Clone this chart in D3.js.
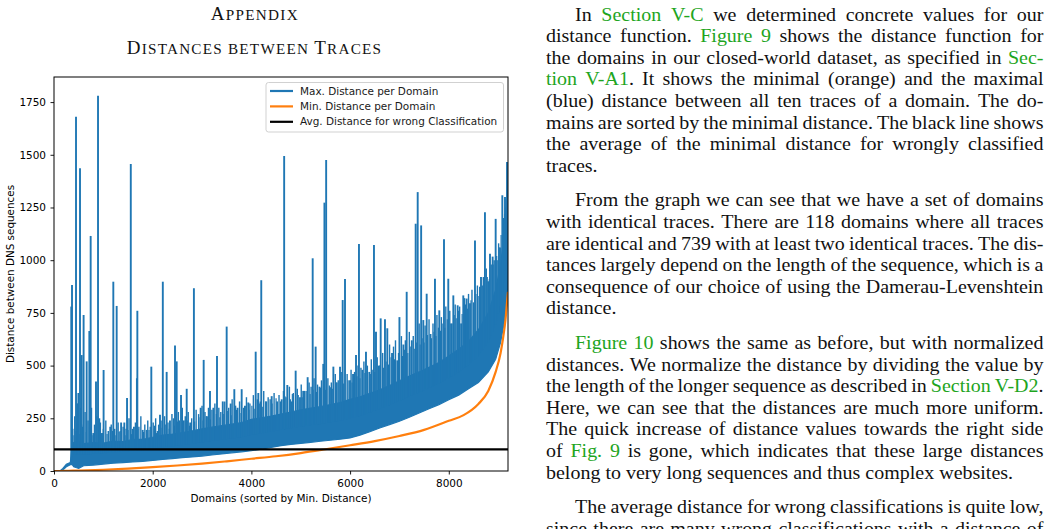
<!DOCTYPE html>
<html><head><meta charset="utf-8">
<script src="https://cdn.jsdelivr.net/npm/d3@7/dist/d3.min.js"></script>
<style>html,body{margin:0;padding:0;background:#fff;overflow:hidden}</style>
</head><body>
<svg id="c" width="1058" height="529"></svg>
<script>
// ---------------- data ----------------
const xTicks = [0, 2000, 4000, 6000, 8000];
const yTicks = [0, 250, 500, 750, 1000, 1250, 1500, 1750];
const xLabel = "Domains (sorted by Min. Distance)";
const yLabel = "Distance between DNS sequences";
const legendLabels = ["Max. Distance per Domain", "Min. Distance per Domain", "Avg. Distance for wrong Classification"];

// dense body of the max-distance series (lower / upper edge of the solid blue mass)
const bandX    = [120, 180, 250, 330, 370, 400, 500, 600, 800, 1000, 1200, 1400, 1600, 1800, 2000, 2200, 2400, 2600, 2800, 3000, 3200, 3400, 3600, 3800, 4000, 4200, 4400, 4600, 4800, 5000, 5200, 5400, 5600, 5800, 6000, 6200, 6400, 6600, 6800, 7000, 7200, 7400, 7600, 7800, 8000, 8200, 8400, 8600, 8800, 8950, 9050, 9120, 9170, 9200];
const bandLow  = [0, 5, 20, 30, 30, 20, 12, 25, 28, 33, 37, 40, 43, 46, 50, 55, 59, 63, 67, 71, 76, 81, 86, 91, 96, 104, 112, 120, 126, 131, 136, 141, 146, 151, 157, 170, 186, 204, 220, 236, 255, 275, 295, 315, 338, 360, 390, 420, 470, 530, 610, 700, 780, 820];
const bandHigh = [0, 12, 32, 40, 120, 135, 140, 130, 135, 132, 142, 140, 150, 150, 160, 170, 175, 182, 190, 200, 208, 215, 222, 230, 245, 252, 260, 270, 280, 290, 298, 305, 315, 325, 340, 352, 368, 385, 405, 428, 450, 470, 492, 515, 545, 578, 615, 670, 750, 860, 980, 1120, 1260, 1380];

// individual tall spikes of the max-distance series
const spikeX = [350, 365, 446, 473, 494, 527, 561, 600, 662, 716, 743, 797, 851, 892, 918, 966, 1005, 1140, 1202, 1270, 1360, 1425, 1480, 1556, 1620, 1680, 1689, 1797, 1878, 1972, 2040, 2081, 2148, 2205, 2283, 2350, 2452, 2486, 2574, 2630, 2689, 2760, 2835, 2972, 3033, 3100, 3161, 3230, 3303, 3420, 3499, 3580, 3654, 3720, 3803, 3870, 3937, 4087, 4140, 4200, 4300, 4411, 4520, 4614, 4664, 4728, 4816, 4897, 4985, 5050, 5140, 5242, 5302, 5380, 5457, 5480, 5515, 5593, 5661, 5730, 5796, 5850, 5897, 5998, 6060, 6120, 6180, 6250, 6322, 6390, 6484, 6525, 6580, 6620, 6707, 6754, 6850, 6957, 7000, 7080, 7147, 7250, 7329, 7370, 7440, 7484, 7552, 7630, 7720, 7808, 7903, 7990, 8060, 8092, 8180, 8250, 8294, 8362, 8430, 8531, 8632, 8653, 8733, 8800, 8835, 8889, 8950, 9000, 9038, 9085, 9139, 9180];
const spikeY = [780, 882, 1681, 321, 370, 1436, 550, 740, 520, 664, 1115, 180, 424, 1780, 250, 180, 479, 210, 898, 783, 230, 230, 346, 1456, 210, 440, 760, 195, 195, 495, 200, 180, 267, 898, 470, 240, 595, 520, 360, 240, 390, 230, 867, 300, 527, 260, 380, 300, 545, 330, 685, 320, 388, 300, 388, 310, 325, 566, 370, 905, 330, 355, 330, 340, 1494, 408, 330, 476, 350, 380, 445, 1009, 590, 400, 508, 1273, 1475, 397, 495, 420, 495, 811, 911, 430, 460, 550, 1077, 480, 566, 470, 1072, 661, 500, 724, 720, 677, 560, 525, 730, 600, 850, 620, 1173, 1323, 1165, 716, 841, 650, 912, 762, 1099, 912, 700, 833, 786, 700, 833, 818, 796, 1093, 874, 920, 1228, 900, 1030, 1017, 1196, 1000, 1060, 1308, 1300, 1466];

// medium peaks rising above the solid mass
const hairX = [380, 420, 470, 540, 580, 630, 690, 760, 820, 870, 940, 1000, 1050, 1100, 1160, 1230, 1300, 1340, 1400, 1460, 1520, 1590, 1650, 1720, 1760, 1840, 1900, 1950, 2010, 2060, 2120, 2170, 2240, 2310, 2390, 2420, 2520, 2540, 2600, 2660, 2720, 2790, 2880, 2930, 3000, 3060, 3130, 3200, 3260, 3340, 3380, 3460, 3540, 3610, 3680, 3760, 3840, 3900, 3970, 4040, 4120, 4180, 4250, 4340, 4380, 4460, 4560, 4650, 4700, 4770, 4850, 4930, 5010, 5080, 5170, 5210, 5270, 5340, 5420, 5550, 5620, 5700, 5760, 5820, 5940, 6020, 6090, 6160, 6220, 6280, 6350, 6430, 6550, 6660, 6800, 6880, 6920, 7040, 7120, 7200, 7280, 7400, 7520, 7600, 7680, 7760, 7850, 7940, 8020, 8130, 8220, 8320, 8400, 8470, 8580, 8700, 8760, 8860, 8920, 9010, 9110, 9150];
const hairY = [200, 260, 230, 300, 210, 280, 240, 300, 220, 260, 230, 200, 240, 190, 220, 200, 230, 190, 210, 200, 250, 200, 230, 210, 260, 220, 240, 210, 230, 250, 220, 240, 260, 230, 270, 250, 280, 240, 300, 260, 280, 250, 290, 270, 310, 280, 300, 290, 320, 300, 280, 330, 300, 340, 310, 330, 300, 350, 320, 360, 340, 330, 380, 350, 340, 370, 360, 380, 350, 400, 370, 390, 410, 380, 420, 400, 440, 410, 430, 440, 420, 460, 430, 470, 460, 480, 470, 500, 490, 520, 500, 530, 540, 560, 600, 590, 620, 640, 620, 660, 640, 700, 690, 720, 700, 740, 730, 780, 760, 790, 780, 820, 840, 860, 880, 920, 960, 980, 1000, 1080, 1200, 1250];

// short fuzz just above the solid mass
const fuzz = [[405,170],[445,190],[510,175],[560,220],[655,185],[720,210],[790,170],[905,195],[980,180],[1075,175],[1185,190],[1255,170],[1320,185],[1440,170],[1500,195],[1570,175],[1700,200],[1815,185],[1925,195],[2035,215],[2095,190],[2190,205],[2265,220],[2335,200],[2440,215],[2500,235],[2615,220],[2700,240],[2745,215],[2850,235],[2960,255],[3020,240],[3085,260],[3170,245],[3290,270],[3360,255],[3440,270],[3520,285],[3590,265],[3700,290],[3790,275],[3860,300],[3950,290],[4010,310],[4070,295],[4160,320],[4230,305],[4290,330],[4420,320],[4500,345],[4590,330],[4680,355],[4790,340],[4830,365],[4950,360],[5030,350],[5110,380],[5190,365],[5250,385],[5320,375],[5400,395],[5500,385],[5580,405],[5640,390],[5720,420],[5870,415],[5960,430],[6040,420],[6140,450],[6200,440],[6300,465],[6410,460],[6460,480],[6500,470],[6600,500],[6680,490],[6730,520],[6780,505],[6830,540],[6900,530],[6980,560],[7060,545],[7100,575],[7170,560],[7230,590],[7310,580],[7350,610],[7420,600],[7460,630],[7500,610],[7570,645],[7650,630],[7700,660],[7740,640],[7790,680],[7830,665],[7880,700],[7920,680],[7970,720],[8040,700],[8110,740],[8150,725],[8200,760],[8270,745],[8340,790],[8380,770],[8450,810],[8500,800],[8550,840],[8610,830],[8680,880],[8720,870],[8780,920],[8820,910],[8900,980],[8970,1020],[9020,1060],[9060,1120],[9090,1150],[9130,1220],[9160,1290],[9190,1380]];

// min distance per domain (sorted)
const minX = [0, 118, 300, 500, 1000, 1500, 2000, 2500, 3000, 3500, 4000, 4500, 5000, 5500, 6000, 6500, 7000, 7500, 8000, 8300, 8600, 8800, 8950, 9050, 9100, 9150, 9180, 9200];
const minY = [0, 0, 1, 2, 6, 11, 18, 26, 35, 46, 58, 70, 85, 103, 122, 142, 166, 195, 238, 265, 318, 380, 470, 560, 630, 720, 800, 850];

const avgWrong = 103;

// page text
const titleLines = [
  [["A", true], ["PPENDIX", false]],
  [["D", true], ["ISTANCES BETWEEN ", false], ["T", true], ["RACES", false]]
];
const paragraphs = [
  ["In {Section V-C} we determined concrete values for our",
   "distance function. {Figure 9} shows the distance function for",
   "the domains in our closed-world dataset, as specified in {Sec-}",
   "{tion V-A1}. It shows the minimal (orange) and the maximal",
   "(blue) distance between all ten traces of a domain. The do-",
   "mains are sorted by the minimal distance. The black line shows",
   "the average of the minimal distance for wrongly classified",
   "traces."],
  ["From the graph we can see that we have a set of domains",
   "with identical traces. There are 118 domains where all traces",
   "are identical and 739 with at least two identical traces. The dis-",
   "tances largely depend on the length of the sequence, which is a",
   "consequence of our choice of using the Damerau-Levenshtein",
   "distance."],
  ["{Figure 10} shows the same as before, but with normalized",
   "distances. We normalize the distance by dividing the value by",
   "the length of the longer sequence as described in {Section V-D2}.",
   "Here, we can see that the distances are much more uniform.",
   "The quick increase of distance values towards the right side",
   "of {Fig. 9} is gone, which indicates that these large distances",
   "belong to very long sequences and thus complex websites."],
  ["The average distance for wrong classifications is quite low,",
   "since there are many wrong classifications with a distance of"]
];
const paragraphComplete = [true, true, true, false];

// ---------------- drawing ----------------
const svg = d3.select("#c");
const BLUE = "#1f77b4", ORANGE = "#ff7f0e", GREEN = "#1ea51e";
const chartFont = "'DejaVu Sans', sans-serif";
const serif = "'Liberation Serif', 'Times New Roman', serif";

const m = {l: 54, r: 508, t: 77, b: 471};
const x = d3.scaleLinear().domain([0, 9200]).range([m.l, m.r]);
const y = d3.scaleLinear().domain([0, 1869]).range([m.b, m.t]);

// chart text horizontal scale (fit measured x-label width)
const fsC = 10.2;
const probeC = svg.append("text").attr("font-family", chartFont).attr("font-size", fsC).text(xLabel);
const sxC = 181 / probeC.node().getComputedTextLength();
probeC.remove();

svg.append("defs").append("clipPath").attr("id", "plot")
  .append("rect").attr("x", m.l).attr("y", m.t).attr("width", m.r - m.l).attr("height", m.b - m.t);
const plot = svg.append("g").attr("clip-path", "url(#plot)");

// helpers: position inside the solid band (for peak bases)
const interpBand = (arr, v) => {
  const i = Math.min(bandX.length - 1, Math.max(1, d3.bisectLeft(bandX, v)));
  const t = (v - bandX[i - 1]) / (bandX[i] - bandX[i - 1]);
  return arr[i - 1] + Math.max(0, Math.min(1, t)) * (arr[i] - arr[i - 1]);
};
const baseAt = v => (interpBand(bandLow, v) + interpBand(bandHigh, v)) / 2;

// blue: dense band
const band = bandX.map((d, i) => ({x: d, lo: bandLow[i], hi: bandHigh[i]}));
plot.append("path").datum(band)
  .attr("d", d3.area().x(d => x(d.x)).y0(d => y(d.lo)).y1(d => y(d.hi)))
  .attr("fill", BLUE).attr("stroke", BLUE).attr("stroke-width", 1.2);

const drawPeaks = (pts, w) => plot.append("g").selectAll("line").data(pts).join("line")
  .attr("x1", d => x(d[0])).attr("x2", d => x(d[0]))
  .attr("y1", d => y(baseAt(d[0]))).attr("y2", d => y(d[1]))
  .attr("stroke", BLUE).attr("stroke-width", w);

drawPeaks(fuzz, 1.2);
drawPeaks(hairX.map((d, i) => [d, hairY[i]]), 1.4);
drawPeaks(spikeX.map((d, i) => [d, spikeY[i]]), 1.9);

// orange: min distance
plot.append("path").datum(minX.map((d, i) => [d, minY[i]]))
  .attr("d", d3.line().x(d => x(d[0])).y(d => y(d[1])).curve(d3.curveMonotoneX))
  .attr("fill", "none").attr("stroke", ORANGE).attr("stroke-width", 2.2);

// black: average distance for wrong classification
plot.append("line").attr("x1", m.l).attr("x2", m.r).attr("y1", y(avgWrong)).attr("y2", y(avgWrong))
  .attr("stroke", "#000").attr("stroke-width", 2.2);

// axes
const gx = svg.append("g").attr("transform", `translate(0,${m.b})`)
  .call(d3.axisBottom(x).tickValues(xTicks).tickSize(3.5).tickPadding(5).tickFormat(d3.format("d")));
const gy = svg.append("g").attr("transform", `translate(${m.l},0)`)
  .call(d3.axisLeft(y).tickValues(yTicks).tickSize(3.5).tickPadding(4.5).tickFormat(d3.format("d")));
[gx, gy].forEach(g => {
  g.select(".domain").remove();
  g.selectAll("line").attr("stroke", "#000").attr("stroke-width", 0.9);
  g.selectAll("text").attr("font-family", chartFont).attr("font-size", fsC).attr("fill", "#000");
});
gx.selectAll("text").attr("transform", `scale(${sxC},1)`);
gy.selectAll("text").each(function () {
  const t = d3.select(this);
  t.attr("x", +t.attr("x") / sxC).attr("transform", `scale(${sxC},1)`);
});

// frame
svg.append("rect").attr("x", m.l).attr("y", m.t).attr("width", m.r - m.l).attr("height", m.b - m.t)
  .attr("fill", "none").attr("stroke", "#000").attr("stroke-width", 1);

// axis labels
svg.append("text").attr("transform", `translate(${(m.l + m.r) / 2},502) scale(${sxC},1)`)
  .attr("text-anchor", "middle").attr("font-family", chartFont).attr("font-size", fsC).text(xLabel);
svg.append("text").attr("transform", `translate(14,${(m.t + m.b) / 2}) rotate(-90)`)
  .attr("text-anchor", "middle").attr("font-family", chartFont).attr("font-size", 10.4).text(yLabel);

// legend
const lg = svg.append("g");
lg.append("rect").attr("x", 266).attr("y", 82.5).attr("width", 237.5).attr("height", 49.5).attr("rx", 2.5)
  .attr("fill", "#fff").attr("fill-opacity", 0.85).attr("stroke", "#cccccc").attr("stroke-width", 0.9);
const lcol = [BLUE, ORANGE, "#000"];
legendLabels.forEach((lab, i) => {
  const cy = 91 + i * 15.4;
  lg.append("line").attr("x1", 270).attr("x2", 293).attr("y1", cy).attr("y2", cy)
    .attr("stroke", lcol[i]).attr("stroke-width", 2.2);
  lg.append("text").attr("transform", `translate(300,${cy + 3.6}) scale(${sxC},1)`)
    .attr("font-family", chartFont).attr("font-size", fsC).attr("fill", "#1a1a1a").text(lab);
});

// titles (small caps)
const titleGeom = [{x: 210.7, y: 20, w: 87}, {x: 126.7, y: 53.5, w: 254.3}];
titleLines.forEach((parts, i) => {
  const t = svg.append("text").attr("x", titleGeom[i].x).attr("y", titleGeom[i].y)
    .attr("font-family", serif).attr("textLength", titleGeom[i].w).attr("lengthAdjust", "spacing")
    .attr("fill", "#111");
  parts.forEach(([s, big]) => t.append("tspan").attr("font-size", big ? 19 : 15.2).text(s));
});

// body text (justified lines)
const fsB = 18.5;
const gBody = svg.append("g").attr("font-family", serif).attr("font-size", fsB).attr("fill", "#111");

function parseLine(s) {
  const words = []; let cur = [], link = false, buf = "";
  const flush = () => { if (buf) { cur.push({t: buf, link}); buf = ""; } };
  for (const ch of s) {
    if (ch === "{") { flush(); link = true; }
    else if (ch === "}") { flush(); link = false; }
    else if (ch === " ") { flush(); if (cur.length) { words.push(cur); cur = []; } }
    else buf += ch;
  }
  flush(); if (cur.length) words.push(cur);
  return words;
}

const built = [];
let lineIdx = 0;
paragraphs.forEach((para, p) => {
  para.forEach((line, k) => {
    const base = 20.7 + lineIdx * 21.6 + p * 13;
    lineIdx++;
    const words = parseLine(line);
    const els = words.map(w => {
      const t = gBody.append("text").attr("y", base);
      w.forEach(r => t.append("tspan").attr("fill", r.link ? GREEN : "#111").text(r.t));
      return t;
    });
    const widths = els.map(t => t.node().getComputedTextLength());
    built.push({els, widths, first: k === 0,
      justify: !(paragraphComplete[p] && k === para.length - 1)});
  });
});
const fullW = 497.5, indentPx = 29;
const minSpace = fsB * 0.2;
let sxB = 1.2;
built.forEach(b => {
  if (!b.justify) return;
  const need = d3.sum(b.widths) + minSpace * (b.widths.length - 1);
  const avail = fullW - (b.first ? indentPx : 0);
  sxB = Math.min(sxB, avail / need);
});
gBody.attr("transform", `translate(546,0) scale(${sxB},1)`);
const Wb = fullW / sxB, indent = indentPx / sxB, spaceW = fsB * 0.25;
built.forEach(b => {
  const start = b.first ? indent : 0;
  const total = d3.sum(b.widths);
  const n = b.els.length;
  const gap = b.justify && n > 1 ? (Wb - start - total) / (n - 1) : spaceW;
  let cx = start;
  b.els.forEach((t, i) => { t.attr("x", cx); cx += b.widths[i] + gap; });
});
</script>
</body></html>
